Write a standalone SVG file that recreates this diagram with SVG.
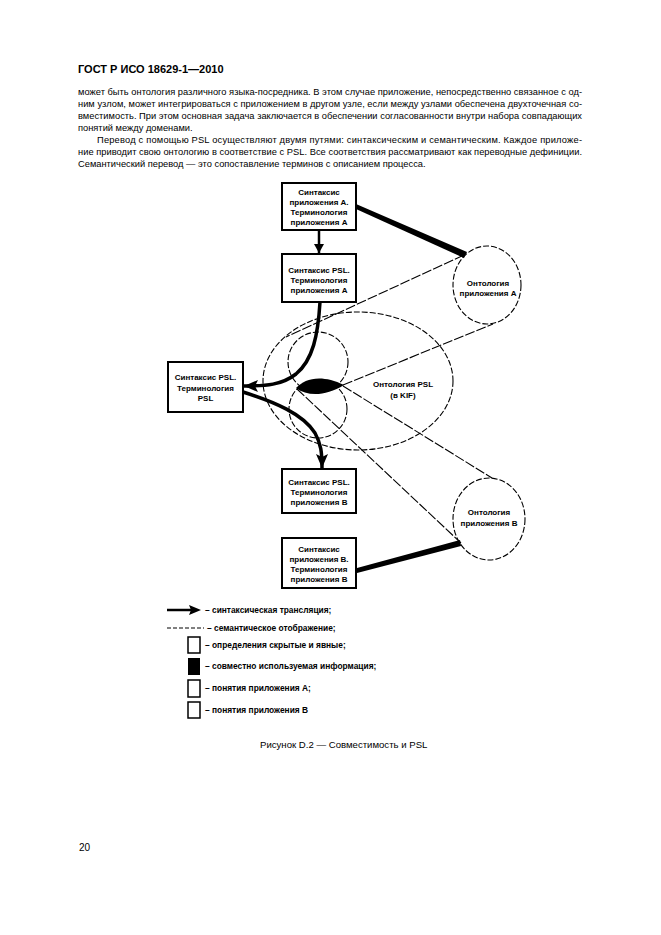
<svg xmlns="http://www.w3.org/2000/svg" width="661" height="935" viewBox="0 0 661 935">
<style>
.t{font-family:"Liberation Sans",Arial,sans-serif;font-size:9.3px;fill:#000}
.h{font-family:"Liberation Sans",Arial,sans-serif;font-size:11px;font-weight:bold;fill:#000}
.n{font-family:"Liberation Sans",Arial,sans-serif;font-size:8px;font-weight:bold;fill:#000;text-anchor:middle}
.l{font-family:"Liberation Sans",Arial,sans-serif;font-size:8.4px;font-weight:bold;fill:#000}
.box{fill:#fff;stroke:#000;stroke-width:2}
.dash{fill:none;stroke:#000;stroke-width:1.1;stroke-dasharray:6 2}
.sem{fill:none;stroke:#000;stroke-width:1.1;stroke-dasharray:10 2}
.syn{fill:none;stroke:#000;stroke-width:3.5}
.lb{fill:#fff;stroke:#000;stroke-width:1.5}
</style>
<defs>
<marker id="ah" markerUnits="userSpaceOnUse" markerWidth="16" markerHeight="12" refX="14" refY="6" orient="auto">
<path d="M0,0 L14,6 L0,12 L3,6 Z" fill="#000"/>
</marker>
<marker id="ahs" markerUnits="userSpaceOnUse" markerWidth="10" markerHeight="10" refX="9" refY="5" orient="auto">
<path d="M0,0 L9,5 L0,10 Z" fill="#000"/>
</marker>
</defs>
<rect width="661" height="935" fill="#fff"/>

<g id="header">
<text class="h" x="78" y="73">ГОСТ Р ИСО 18629-1—2010</text>
</g>
<g id="paragraph">
<text class="t" x="78" y="95" textLength="504" lengthAdjust="spacing">может быть онтология различного языка-посредника. В этом случае приложение, непосредственно связанное с од-</text>
<text class="t" x="78" y="107" textLength="504" lengthAdjust="spacing">ним узлом, может интегрироваться с приложением в другом узле, если между узлами обеспечена двухточечная со-</text>
<text class="t" x="78" y="119" textLength="504" lengthAdjust="spacing">вместимость. При этом основная задача заключается в обеспечении согласованности внутри набора совпадающих</text>
<text class="t" x="78" y="131">понятий между доменами.</text>
<text class="t" x="97" y="143" textLength="485" lengthAdjust="spacing">Перевод с помощью PSL осуществляют двумя путями: синтаксическим и семантическим. Каждое приложе-</text>
<text class="t" x="78" y="155" textLength="504" lengthAdjust="spacing">ние приводит свою онтологию в соответствие с PSL. Все соответствия рассматривают как переводные дефиниции.</text>
<text class="t" x="78" y="167">Семантический перевод — это сопоставление терминов с описанием процесса.</text>
</g>

<g id="psl-ontology">
<ellipse class="dash" cx="358" cy="381" rx="95" ry="69"/>
<text class="n" x="403" y="387">Онтология PSL</text>
<text class="n" x="403" y="398">(в KIF)</text>
</g>
<g id="concepts-a">
<circle class="dash" cx="318" cy="362" r="30"/>
</g>
<g id="concepts-b">
<circle class="dash" cx="318" cy="409" r="29"/>
</g>
<g id="shared-info">
<path d="M296,388 C305,378 322,374 344,385 C326,396 308,397 296,388 Z" fill="#000"/>
</g>

<g id="ontology-a">
<ellipse class="dash" cx="487" cy="285" rx="34" ry="39"/>
<text class="n" x="488" y="286">Онтология</text>
<text class="n" x="488" y="296">приложения А</text>
</g>
<g id="ontology-b">
<ellipse class="dash" cx="489" cy="519" rx="36" ry="41"/>
<text class="n" x="489" y="515">Онтология</text>
<text class="n" x="489" y="526">приложения В</text>
</g>

<g id="connectors">
<line class="sem" x1="464" y1="255" x2="286" y2="337"/>
<line class="sem" x1="343" y1="385" x2="493" y2="324"/>
<line class="sem" x1="343" y1="386" x2="492" y2="478"/>
<line class="sem" x1="297" y1="389" x2="461" y2="543"/>
<polygon points="356,204 356,209 464,258 467,252" fill="#000"/>
<polygon points="357,568 357,573 461,546 460,540" fill="#000"/>
<line x1="319" y1="230" x2="319" y2="253" stroke="#000" stroke-width="2.5" marker-end="url(#ahs)"/>
<path class="syn" d="M320,302 C318,335 313,360 296,374 C282,385 266,386 244,386" marker-end="url(#ah)"/>
<path class="syn" d="M243,392 C275,402 303,414 315,433 C321,444 322,452 322,468" marker-end="url(#ah)"/>
</g>

<g id="box-syntax-app-a">
<rect class="box" x="282" y="183" width="74" height="47"/>
<text class="n" x="319" y="195">Синтаксис</text>
<text class="n" x="319" y="205">приложения А.</text>
<text class="n" x="319" y="215">Терминология</text>
<text class="n" x="319" y="225">приложения А</text>
</g>
<g id="box-syntax-psl-term-a">
<rect class="box" x="282" y="254" width="74" height="48"/>
<text class="n" x="319" y="273">Синтаксис PSL.</text>
<text class="n" x="319" y="283">Терминология</text>
<text class="n" x="319" y="293">приложения А</text>
</g>
<g id="box-syntax-psl-term-psl">
<rect class="box" x="168" y="362" width="75" height="50"/>
<text class="n" x="205.5" y="380">Синтаксис PSL.</text>
<text class="n" x="205.5" y="391">Терминология</text>
<text class="n" x="205.5" y="401">PSL</text>
</g>
<g id="box-syntax-psl-term-b">
<rect class="box" x="282" y="469" width="74" height="44"/>
<text class="n" x="319" y="485">Синтаксис PSL.</text>
<text class="n" x="319" y="495">Терминология</text>
<text class="n" x="319" y="505">приложения В</text>
</g>
<g id="box-syntax-app-b">
<rect class="box" x="282" y="538" width="74" height="50"/>
<text class="n" x="319" y="552">Синтаксис</text>
<text class="n" x="319" y="562">приложения В.</text>
<text class="n" x="319" y="572">Терминология</text>
<text class="n" x="319" y="582">приложения В</text>
</g>

<g id="legend">
<line x1="167" y1="610" x2="192" y2="610" stroke="#000" stroke-width="2.5"/>
<path d="M189,605 L201,610 L189,615 L191,610 Z" fill="#000"/>
<text class="l" x="205" y="613">– синтаксическая трансляция;</text>
<line x1="167" y1="628" x2="204" y2="628" stroke="#000" stroke-width="1" stroke-dasharray="4 2"/>
<text class="l" x="207" y="631">– семантическое отображение;</text>
<rect class="lb" x="188" y="637" width="12" height="16"/>
<text class="l" x="205" y="648">– определения скрытые и явные;</text>
<rect x="188" y="658" width="12" height="17" fill="#000"/>
<text class="l" x="205" y="669">– совместно используемая информация;</text>
<rect class="lb" x="188" y="680" width="12" height="17"/>
<text class="l" x="205" y="691">– понятия приложения А;</text>
<rect class="lb" x="188" y="702" width="12" height="16"/>
<text class="l" x="205" y="713">– понятия приложения В</text>
</g>

<g id="caption">
<text class="t" x="260" y="748" style="font-size:9.6px">Рисунок D.2 — Совместимость и PSL</text>
</g>
<g id="page-number">
<text class="t" x="79" y="851" style="font-size:10px">20</text>
</g>
</svg>
